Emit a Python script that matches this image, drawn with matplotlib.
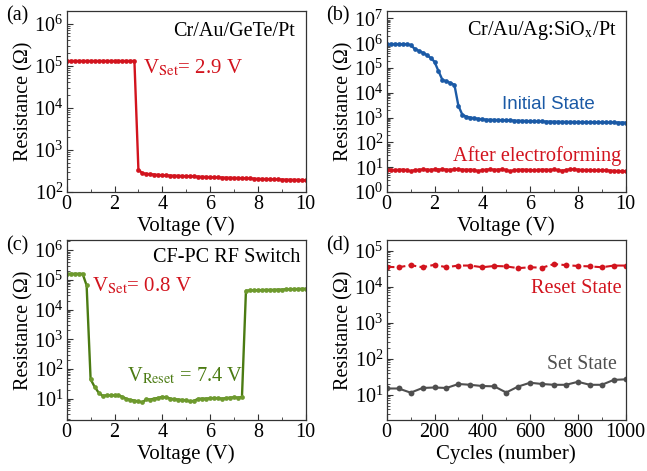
import numpy as np
import matplotlib
matplotlib.use("Agg")
import matplotlib.pyplot as plt
from matplotlib.ticker import LogLocator, MultipleLocator, NullFormatter

plt.rcParams["font.family"] = ["Liberation Serif", "DejaVu Serif"]
plt.rcParams["mathtext.fontset"] = "stix"

RED = "#D2141E"
BLUE = "#1B5AA6"
GREEN = "#4B7B12"
GREEN_FACE = "#6E9A2E"
GRAY = "#4F4F4F"

# (a) Cr/Au/GeTe/Pt, R vs V sweep
r_gete = [1.3e5] * 18 + [
    3.4e2, 2.8e2, 2.7e2, 2.65e2, 2.6e2, 2.55e2, 2.5e2,
    2.48e2, 2.46e2, 2.44e2, 2.42e2, 2.40e2, 2.38e2, 2.36e2, 2.34e2, 2.32e2, 2.30e2, 2.28e2, 2.25e2,
    2.24e2, 2.22e2, 2.21e2, 2.19e2, 2.18e2, 2.16e2, 2.15e2, 2.13e2, 2.12e2, 2.10e2, 2.08e2, 2.05e2,
    2.04e2, 2.03e2, 2.02e2, 2.00e2, 1.99e2, 1.98e2, 1.97e2, 1.96e2, 1.95e2, 1.94e2, 1.92e2, 1.90e2]

# (b) Cr/Au/Ag:SiOx/Pt
r_initial = [9.2e5] * 6 + [
    8.5e5, 6.0e5, 5.0e5, 4.2e5, 3.4e5, 2.6e5, 1.8e5, 7.5e4, 3.3e4, 2.9e4, 2.5e4, 2.1e4,
    3.0e3, 1.3e3, 1.1e3, 1.0e3, 9.5e2, 9.0e2, 8.5e2,
    830, 820, 810, 800, 790, 780, 770, 760, 750, 740, 730, 720,
    710, 705, 700, 695, 690, 685, 680, 675, 670, 670, 665, 660,
    660, 655, 655, 650, 650, 645, 645, 640, 640, 635, 635, 630]
r_formed = [7.8, 7.8, 7.6, 7.9, 8.0, 7.7, 6.9, 7.6, 7.9, 8.1, 8.0, 7.9, 8.1, 8.0, 8.2,
            8.0, 7.9, 8.1, 8.2, 8.0, 7.9, 8.0, 7.8, 6.9, 7.7, 8.0, 8.1, 7.9, 8.0, 8.1,
            7.8, 6.8, 7.6, 7.9, 8.0, 7.9, 7.7, 7.5, 7.8, 8.0, 7.9, 7.8, 8.1, 7.6, 7.2,
            7.7, 8.2, 8.3, 7.9, 7.8, 7.6, 7.7, 7.5, 7.4, 7.6, 7.5, 7.3, 7.2, 7.0, 6.9, 6.8]

# (c) CF-PC RF switch
r_switch = [1.6e5] * 5 + [
    6.5e4, 45, 25, 16, 12.5, 12.8, 12.8, 13, 12.8, 11.5, 9.8, 9.0, 8.6, 8.0, 7.5,
    9.5, 9.3, 10, 10.5, 11.5, 11, 10, 9.5, 9.3, 9.0, 8.8, 8.0, 8.5, 9.8, 10, 10,
    10.2, 10.5, 10.3, 10.0, 10.3, 10.8, 11, 10.8, 11.2,
    4.3e4, 4.4e4, 4.4e4, 4.5e4, 4.5e4, 4.6e4, 4.6e4, 4.6e4, 4.7e4, 4.7e4, 4.8e4,
    4.8e4, 4.9e4, 4.9e4, 5.0e4, 5.0e4]

# (d) endurance
cycles = [0, 50, 100, 150, 200, 250, 300, 350, 400, 450, 500,
          550, 600, 650, 700, 750, 800, 850, 900, 950, 1000]
r_reset = [3.6e4, 3.5e4, 4.0e4, 3.5e4, 4.1e4, 3.5e4, 3.9e4, 3.9e4, 3.5e4, 3.8e4, 3.7e4,
           3.3e4, 3.5e4, 3.4e4, 4.3e4, 4.0e4, 3.8e4, 3.7e4, 3.5e4, 3.9e4, 3.9e4]
r_set = [15, 15, 11.5, 15.5, 16, 15.5, 20, 19, 17.6, 17.2, 11.6,
         17, 21.7, 20, 19, 19, 23, 19, 19, 26, 27]


def sweep(r):
    return np.linspace(0, 10, len(r))


def style(ax, ylim, xmax=10, xmajor=2, xminor=1):
    ax.set_yscale("log")
    ax.set_ylim(*ylim)
    ax.set_xlim(0, xmax)
    ax.xaxis.set_major_locator(MultipleLocator(xmajor))
    ax.xaxis.set_minor_locator(MultipleLocator(xminor))
    ax.yaxis.set_major_locator(LogLocator(base=10, numticks=20))
    ax.yaxis.set_minor_locator(LogLocator(base=10, subs=np.arange(2, 10), numticks=20))
    ax.yaxis.set_minor_formatter(NullFormatter())
    ax.tick_params(which="both", direction="in", top=False, right=False,
                   labelsize=14.5, color="#333333")
    ax.tick_params(which="major", length=4, width=0.8)
    ax.tick_params(which="minor", length=2, width=0.6)
    ax.tick_params(axis="x", which="major", pad=2.5)
    ax.tick_params(axis="y", which="major", pad=2.5)
    for s in ax.spines.values():
        s.set_color("#333333")
        s.set_linewidth(0.9)
    ax.set_ylabel("Resistance (Ω)", fontsize=14.5)
    ax.yaxis.set_label_coords(-0.14, 0.5)
    ax.xaxis.set_label_coords(0.5, -0.135)


fig = plt.figure(figsize=(6.47, 4.71), dpi=100)
W, H = 647, 471


def add_axes(left, top, right, bottom):
    return fig.add_axes([left / W, 1 - bottom / H, (right - left) / W, (bottom - top) / H])


ax_a = add_axes(66.7, 11, 305.7, 192)
ax_b = add_axes(386.7, 11, 625.7, 192)
ax_c = add_axes(66.7, 240, 305.7, 420)
ax_d = add_axes(386.7, 240, 625.7, 420)

mk = dict(marker="o", markersize=3.4, linewidth=1.7)

# (a)
ax_a.plot(sweep(r_gete), r_gete, color=RED, markerfacecolor=RED, markeredgewidth=0, **mk)
style(ax_a, (1e2, 2e6))
ax_a.set_xlabel("Voltage (V)", fontsize=15)
ax_a.text(0.955, 0.862, "Cr/Au/GeTe/Pt", transform=ax_a.transAxes,
          ha="right", va="baseline", fontsize=14.5)
ax_a.text(0.32, 0.656, r"V$_{\mathrm{Set}}$= 2.9 V", transform=ax_a.transAxes,
          ha="left", va="baseline", fontsize=15, color=RED)

# (b)
ax_b.plot(sweep(r_initial), r_initial, color=BLUE, markerfacecolor=BLUE, markeredgewidth=0, **mk)
ax_b.plot(sweep(r_formed), r_formed, color=RED, markerfacecolor=RED, markeredgewidth=0, **mk)
style(ax_b, (1, 2e7))
ax_b.set_xlabel("Voltage (V)", fontsize=15)
ax_b.text(0.962, 0.867, r"Cr/Au/Ag:SiO$_{\mathrm{x}}$/Pt", transform=ax_b.transAxes,
          ha="right", va="baseline", fontsize=14.5)
ax_b.text(0.481, 0.457, "Initial State", transform=ax_b.transAxes,
          ha="left", va="baseline", fontsize=13.5, color=BLUE,
          family=["Liberation Sans", "DejaVu Sans"])
ax_b.text(0.276, 0.173, "After electroforming", transform=ax_b.transAxes,
          ha="left", va="baseline", fontsize=14.6, color=RED)

# (c)
ax_c.plot(sweep(r_switch), r_switch, color=GREEN, markerfacecolor=GREEN_FACE,
          markeredgewidth=0, **mk)
style(ax_c, (1.9, 2.2e6))
ax_c.set_xlabel("Voltage (V)", fontsize=15)
ax_c.text(0.976, 0.879, "CF-PC RF Switch", transform=ax_c.transAxes,
          ha="right", va="baseline", fontsize=14.6)
ax_c.text(0.105, 0.713, r"V$_{\mathrm{Set}}$= 0.8 V", transform=ax_c.transAxes,
          ha="left", va="baseline", fontsize=15, color=RED)
ax_c.text(0.251, 0.213, r"V$_{\mathrm{Reset}}$ = 7.4 V", transform=ax_c.transAxes,
          ha="left", va="baseline", fontsize=14.7, color=GREEN)

# (d)
ax_d.plot(cycles, r_reset, color=RED, linestyle="--", markerfacecolor=RED,
          markeredgewidth=0, marker="o", markersize=4.2, linewidth=1.5)
ax_d.plot(cycles, r_set, color=GRAY, markerfacecolor=GRAY,
          markeredgewidth=0, marker="o", markersize=4.2, linewidth=1.5)
style(ax_d, (2, 2e5), xmax=1000, xmajor=200, xminor=100)
ax_d.set_xlabel("Cycles (number)", fontsize=15)
ax_d.text(0.983, 0.704, "Reset State", transform=ax_d.transAxes,
          ha="right", va="baseline", fontsize=14.6, color=RED)
ax_d.text(0.962, 0.282, "Set State", transform=ax_d.transAxes,
          ha="right", va="baseline", fontsize=14.2, color=GRAY)

for lbl, (x, y) in zip(["(a)", "(b)", "(c)", "(d)"],
                       [(6, 16), (326, 16), (6, 246), (326, 246)]):
    fig.text(x / W, 1 - y / H, lbl, ha="left", va="center", fontsize=14.5)

fig.savefig("out.png", dpi=100)
